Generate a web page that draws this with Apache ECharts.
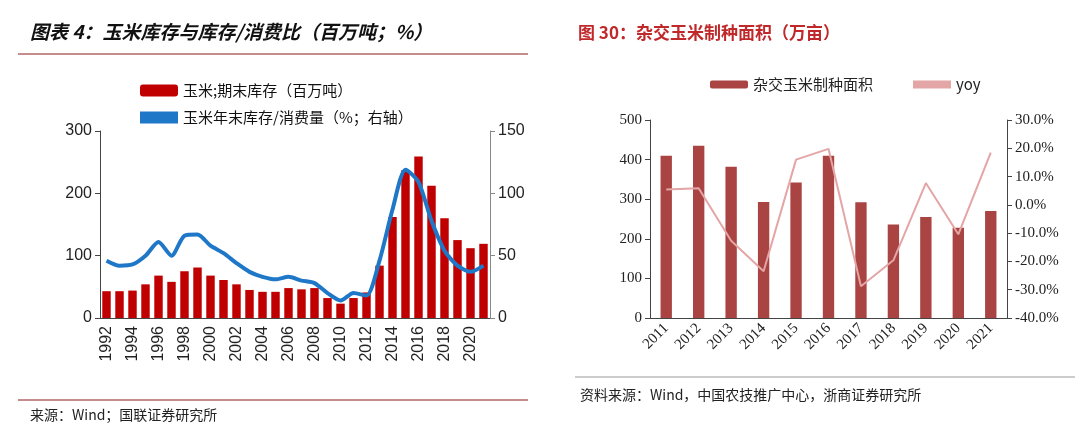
<!DOCTYPE html>
<html>
<head>
<meta charset="utf-8">
<script src="https://cdn.jsdelivr.net/npm/echarts@6/dist/echarts.min.js"></script>
<style>html,body{margin:0;padding:0;background:#fff}#main{width:1080px;height:435px}</style>
</head>
<body>
<div id="main"></div>
<script>
var years1 = ['1992','1993','1994','1995','1996','1997','1998','1999','2000','2001','2002','2003','2004','2005','2006','2007','2008','2009','2010','2011','2012','2013','2014','2015','2016','2017','2018','2019','2020','2021'];
var stock = [43,43,44,54,68,58,75,81,68,61,54,45,42,42,48,46,48,32,23,32,41,84,162,237,259,212,160,125,112,119];
var ratio = [46,42,43,50,61,50,66,67,58,52,44,37,33,31,33,30,28,20,14,20,18,46,87,119,109,78,54,42,37,42];

var years2 = ['2011','2012','2013','2014','2015','2016','2017','2018','2019','2020','2021'];
var area = [410,435,382,293,342,410,292,236,255,228,270];
var yoy = [5.4,5.9,-12.7,-23.5,16,19.8,-28.8,-19.6,7.7,-10.4,18.5];

var chart = echarts.init(document.getElementById('main'));
var serif = 'Liberation Serif';
var leftLabel = { fontSize: 16, color: '#222', fontFamily: 'Liberation Sans' };
var rightLabel = { fontSize: 15, color: '#222', fontFamily: serif };

var option = {
  animation: false,
  graphic: [
    { type: 'text', left: 30, top: 22, style: { text: '图表 4：玉米库存与库存/消费比（百万吨；%）', font: 'italic bold 19px "Noto Sans CJK SC"', fill: '#111' } },
    { type: 'line', shape: { x1: 18, y1: 54, x2: 528, y2: 54 }, style: { stroke: '#8b1a1a', lineWidth: 1 } },
    { type: 'line', shape: { x1: 18, y1: 400, x2: 528, y2: 400 }, style: { stroke: '#8b1a1a', lineWidth: 1 } },
    { type: 'text', left: 30, top: 408, style: { text: '来源：Wind；国联证券研究所', font: '14px "Noto Sans CJK SC"', fill: '#222' } },
    { type: 'text', left: 578, top: 24, style: { text: '图 30：杂交玉米制种面积（万亩）', font: 'bold 17px "Noto Sans CJK SC"', fill: '#c0282a' } },
    { type: 'line', shape: { x1: 575, y1: 377, x2: 1075, y2: 377 }, style: { stroke: '#999', lineWidth: 1 } },
    { type: 'text', left: 580, top: 388, style: { text: '资料来源：Wind，中国农技推广中心，浙商证券研究所', font: '14px "Noto Sans CJK SC"', fill: '#222' } }
  ],
  legend: [
    { left: 135, top: 78, orient: 'vertical', itemGap: 12, itemWidth: 38, itemHeight: 12,
      textStyle: { fontSize: 15, color: '#111', fontFamily: 'Noto Sans CJK SC' },
      data: [{ name: '玉米;期末库存（百万吨）' }, { name: '玉米年末库存/消费量（%；右轴）', icon: 'rect', itemStyle: { color: '#1f77c8' } }] },
    { left: 705, top: 72, itemGap: 40, itemWidth: 38, itemHeight: 8,
      textStyle: { fontSize: 15, color: '#222', fontFamily: 'Noto Sans CJK SC' },
      data: [{ name: '杂交玉米制种面积' }, { name: 'yoy', icon: 'rect', itemStyle: { color: '#e3a5a5' } }] }
  ],
  grid: [
    { left: 100, right: 590, top: 131, bottom: 117 },
    { left: 650, right: 73, top: 120, bottom: 117 }
  ],
  xAxis: [
    { type: 'category', gridIndex: 0, data: years1,
      axisLine: { lineStyle: { color: '#444' } }, axisTick: { interval: 1, lineStyle: { color: '#444' } },
      axisLabel: Object.assign({ interval: 1, rotate: 90 }, leftLabel) },
    { type: 'category', gridIndex: 1, data: years2,
      axisLine: { lineStyle: { color: '#444' } }, axisTick: { lineStyle: { color: '#444' } },
      axisLabel: Object.assign({ interval: 0, rotate: 45 }, rightLabel) }
  ],
  yAxis: [
    { type: 'value', gridIndex: 0, min: 0, max: 300, interval: 100, splitLine: { show: false },
      axisLine: { show: true, lineStyle: { color: '#444' } }, axisTick: { show: true }, axisLabel: leftLabel },
    { type: 'value', gridIndex: 0, min: 0, max: 150, interval: 50, position: 'right', splitLine: { show: false },
      axisLine: { show: true, lineStyle: { color: '#888' } }, axisTick: { show: true }, axisLabel: leftLabel },
    { type: 'value', gridIndex: 1, min: 0, max: 500, interval: 100, splitLine: { show: false },
      axisLine: { show: true, lineStyle: { color: '#444' } }, axisTick: { show: true }, axisLabel: rightLabel },
    { type: 'value', gridIndex: 1, min: -40, max: 30, interval: 10, position: 'right', splitLine: { show: false },
      axisLine: { show: true, lineStyle: { color: '#444' } }, axisTick: { show: true },
      axisLabel: Object.assign({ formatter: function (v) { return v.toFixed(1) + '%'; } }, rightLabel) }
  ],
  series: [
    { name: '玉米;期末库存（百万吨）', type: 'bar', xAxisIndex: 0, yAxisIndex: 0, data: stock,
      barWidth: '65%', itemStyle: { color: '#c00000' } },
    { name: '玉米年末库存/消费量（%；右轴）', type: 'line', xAxisIndex: 0, yAxisIndex: 1, data: ratio,
      smooth: 0.25, symbol: 'none', lineStyle: { color: '#1f77c8', width: 4 } },
    { name: '杂交玉米制种面积', type: 'bar', xAxisIndex: 1, yAxisIndex: 2, data: area,
      barWidth: '35%', itemStyle: { color: '#a94442' } },
    { name: 'yoy', type: 'line', xAxisIndex: 1, yAxisIndex: 3, data: yoy,
      symbol: 'none', lineStyle: { color: '#e3a5a5', width: 2 } }
  ]
};
chart.setOption(option);
</script>
</body>
</html>
